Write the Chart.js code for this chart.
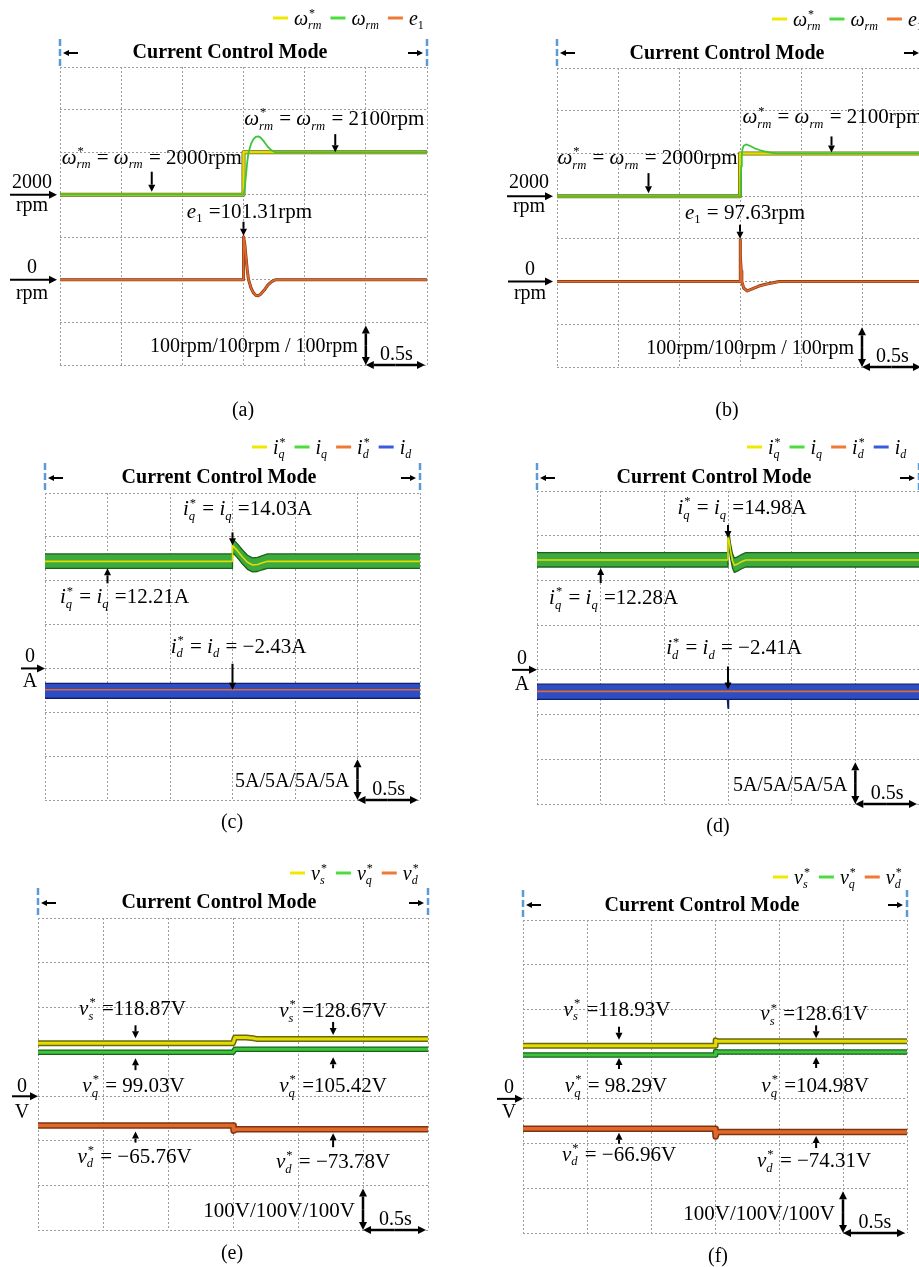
<!DOCTYPE html>
<html>
<head>
<meta charset="utf-8">
<script src="https://cdn.jsdelivr.net/npm/chart.js@4.4.1/dist/chart.umd.min.js"></script>
<style>
  html, body { margin: 0; padding: 0; background: #fff; }
  body { position: relative; width: 919px; height: 1267px; overflow: hidden; }
  canvas { position: absolute; }
</style>
</head>
<body>
<script>
// ---------- scope settings ----------
const timeRange = [0, 3];          // 6 divisions of 0.5 s
const timeStep = 0.5;
const speedRange = [1600, 2300];   // omega channels, 100 rpm/div
const errRange = [-200, 500];      // e1 channel, 100 rpm/div
const currentRange = [-15, 20];    // 5 A/div
const voltRange = [-300, 400];     // 100 V/div
const modeLabel = 'Current Control Mode';

// ---------- (a) speed step, first controller ----------
const aRefT = [0, 1.5, 1.5, 3];
const aRefSpeed = [2000, 2000, 2100, 2100];
const aSpdT = [0, 1.5, 1.51, 1.52, 1.53, 1.54, 1.56, 1.58, 1.6, 1.62, 1.64, 1.67, 1.7, 1.73, 1.76, 3];
const aSpeed = [2000, 2000, 2015, 2045, 2075, 2098, 2118, 2130, 2136, 2137, 2134, 2124, 2112, 2104, 2100, 2100];
const aErrT = [0, 1.5, 1.5, 1.51, 1.52, 1.53, 1.54, 1.56, 1.58, 1.6, 1.62, 1.64, 1.67, 1.7, 1.73, 1.76, 3];
const aErr = [0, 0, 101.31, 85, 55, 25, 2, -18, -30, -36, -37.5, -34, -24, -12, -4, 0, 0];

// ---------- (b) speed step, second controller ----------
const bRefT = [0, 1.5, 1.5, 3];
const bRefSpeed = [2000, 2000, 2100, 2100];
const bSpdT = [0, 1.5, 1.505, 1.51, 1.515, 1.52, 1.53, 1.55, 1.58, 1.62, 1.66, 1.7, 1.75, 1.8, 3];
const bSpeed = [2000, 2000, 2030, 2070, 2095, 2110, 2118, 2121, 2118, 2112, 2108, 2105, 2102, 2100, 2100];
const bErrT = [0, 1.5, 1.5, 1.505, 1.51, 1.515, 1.53, 1.56, 1.6, 1.65, 1.7, 1.75, 1.82, 3];
const bErr = [0, 0, 97.63, 60, 25, 0, -15, -22, -17, -11, -7, -4, 0, 0];

// ---------- (c) dq currents, first controller ----------
const cIqT = [0, 1.5, 1.5, 1.54, 1.58, 1.62, 1.66, 1.7, 1.74, 1.78, 3];
const cIqRef = [12.21, 12.21, 14.03, 13.4, 12.7, 12.1, 11.8, 11.85, 12.05, 12.21, 12.21];
const cIqHigh = [13.05, 13.05, 14.8, 14.2, 13.5, 12.9, 12.6, 12.65, 12.85, 13.05, 13.05];
const cIqLow = [11.4, 11.4, 13.25, 12.6, 11.9, 11.3, 11.0, 11.05, 11.25, 11.4, 11.4];
const cIdT = [0, 3];
const cIdRef = [-2.43, -2.43];
const cIdHigh = [-1.7, -1.7];
const cIdLow = [-3.4, -3.4];

// ---------- (d) dq currents, second controller ----------
const dIqT = [0, 1.5, 1.5, 1.51, 1.52, 1.535, 1.55, 1.57, 1.6, 1.64, 3];
const dIqRef = [12.28, 12.28, 14.98, 14.4, 13.3, 12.2, 11.7, 11.8, 12.05, 12.28, 12.28];
const dIqHigh = [13.1, 13.1, 15.3, 15.1, 14.1, 13.0, 12.5, 12.6, 12.85, 13.1, 13.1];
const dIqLow = [11.5, 11.5, 14.3, 13.6, 12.5, 11.4, 10.9, 11.0, 11.25, 11.5, 11.5];
const dIdT = [0, 1.495, 1.5, 1.505, 3];
const dIdRef = [-2.41, -2.41, -2.41, -2.41, -2.41];
const dIdHigh = [-1.6, -1.6, -1.2, -1.6, -1.6];
const dIdLow = [-3.3, -3.3, -4.3, -3.3, -3.3];

// ---------- (e) voltage references, first controller ----------
const eVsT = [0, 1.5, 1.515, 1.6, 1.66, 1.68, 3];
const eVs = [118.87, 118.87, 132, 132, 130, 128.67, 128.67];
const eVqT = [0, 1.5, 1.515, 3];
const eVq = [99.03, 99.03, 105.42, 105.42];
const eVdT = [0, 1.5, 1.505, 1.52, 1.53, 3];
const eVd = [-65.76, -65.76, -77, -74.5, -73.78, -73.78];

// ---------- (f) voltage references, second controller ----------
const fVsT = [0, 1.5, 1.505, 1.52, 3];
const fVs = [118.93, 118.93, 131, 128.61, 128.61];
const fVqT = [0, 1.5, 1.505, 1.52, 3];
const fVq = [98.29, 98.29, 106, 104.98, 104.98];
const fVdT = [0, 1.5, 1.505, 1.515, 1.53, 3];
const fVd = [-66.96, -66.96, -84, -76, -74.31, -74.31];

// ---------- series names (math markup: {base|sup|sub}) ----------
const speedNames = ['{ω|*|rm}', '{ω||rm}', '{e||1}'];
const currentNames = ['{i|*|q}', '{i||q}', '{i|*|d}', '{i||d}'];
const voltNames = ['{v|*|s}', '{v|*|q}', '{v|*|d}'];

// ---------- styles ----------
const SERIF = '"Liberation Serif", "Times New Roman", serif';
const GRID_COLOR = '#9d9d9d';
const YELLOW = '#e2dc00', YELLOW_DK = '#6b6812';
const GREEN = '#3cc43c', GREEN_DK = '#1a621a', GREEN_FILL = '#3caa3c';
const ORANGE = '#e2682a', ORANGE_DK = '#7c3412';
const BLUE = '#2c4ec4', BLUE_DK = '#121f66';
const KEY = { y: '#f0e800', g: '#4cdc40', o: '#ee7a35', b: '#3a5ae0' };
const DASH_BLUE = '#5b9bd5';

function num(v) { return (v < 0 ? '\u2212' : '') + Math.abs(v).toString(); }
function fnt(size, style) { return (style || '') + ' ' + size + 'px ' + SERIF; }

function pts(t, v) { return t.map((x, i) => ({ x: x, y: v[i] })); }
function line(t, v, axis, color, width) {
  return { data: pts(t, v), yAxisID: axis, borderColor: color, borderWidth: width, borderJoinStyle: 'round',
           pointRadius: 0, fill: false, tension: 0 };
}
function bandTop(t, v, axis, fillColor, edge) {
  return { data: pts(t, v), yAxisID: axis, borderColor: edge, borderWidth: 1.3, borderJoinStyle: 'round',
           backgroundColor: fillColor, fill: '+1', pointRadius: 0, tension: 0 };
}

// ---------- text helpers ----------
function parseMath(src) {
  const out = []; const re = /\{([^}]*)\}/g; let last = 0, m;
  while ((m = re.exec(src))) {
    if (m.index > last) out.push({ t: src.slice(last, m.index) });
    const parts = m[1].split('|');
    out.push({ b: parts[0], sp: parts[1] || '', sb: parts[2] || '' });
    last = re.lastIndex;
  }
  if (last < src.length) out.push({ t: src.slice(last) });
  return out;
}
function scriptStyle(s) { return /^[0-9*]+$/.test(s) ? '' : 'italic'; }
function drawMath(ctx, src, x, y, size, align) {
  const toks = parseMath(src); const items = []; let w = 0; const ss = size * 0.6;
  toks.forEach(k => {
    if (k.t !== undefined) {
      ctx.font = fnt(size, ''); items.push({ s: k.t, x: w, f: fnt(size, ''), dy: 0 }); w += ctx.measureText(k.t).width;
    } else {
      ctx.font = fnt(size, 'italic'); items.push({ s: k.b, x: w, f: fnt(size, 'italic'), dy: 0 }); w += ctx.measureText(k.b).width;
      let spw = 0, sbw = 0;
      if (k.sp) { ctx.font = fnt(ss, scriptStyle(k.sp)); spw = ctx.measureText(k.sp).width; items.push({ s: k.sp, x: w + 1, f: ctx.font, dy: -size * 0.42 }); }
      if (k.sb) { ctx.font = fnt(ss, scriptStyle(k.sb)); sbw = ctx.measureText(k.sb).width; items.push({ s: k.sb, x: w, f: ctx.font, dy: size * 0.22 }); }
      w += Math.max(spw + 1, sbw) + 1;
    }
  });
  const x0 = align === 'center' ? x - w / 2 : align === 'right' ? x - w : x;
  ctx.fillStyle = '#000'; ctx.textAlign = 'left'; ctx.textBaseline = 'alphabetic';
  items.forEach(it => { ctx.font = it.f; ctx.fillText(it.s, x0 + it.x, y + it.dy); });
  return w;
}
function arrow(ctx, x1, y1, x2, y2, w, head) {
  const a = Math.atan2(y2 - y1, x2 - x1), hl = head, hw = head * 0.5;
  const bx = x2 - Math.cos(a) * hl, by = y2 - Math.sin(a) * hl;
  ctx.strokeStyle = '#000'; ctx.fillStyle = '#000'; ctx.lineWidth = w; ctx.setLineDash([]);
  ctx.beginPath(); ctx.moveTo(x1, y1); ctx.lineTo(bx, by); ctx.stroke();
  ctx.beginPath(); ctx.moveTo(x2, y2);
  ctx.lineTo(bx - Math.sin(a) * hw, by + Math.cos(a) * hw);
  ctx.lineTo(bx + Math.sin(a) * hw, by - Math.cos(a) * hw);
  ctx.closePath(); ctx.fill();
}
function dblArrow(ctx, x1, y1, x2, y2, w, head) {
  const mx = (x1 + x2) / 2, my = (y1 + y2) / 2;
  arrow(ctx, mx, my, x1, y1, w, head); arrow(ctx, mx, my, x2, y2, w, head);
}

// ---------- annotation layer drawn on top of each scope screen ----------
function overlay(p) {
  return {
    id: 'overlay_' + p.name,
    afterDraw(chart) {
      const ctx = chart.ctx, ca = chart.chartArea;
      const L = ca.left + p.left, R = ca.right + p.left, T = ca.top + p.top, B = ca.bottom + p.top;
      const X = t => chart.scales.x.getPixelForValue(t) + p.left;
      const Y = (ax, v) => chart.scales[ax].getPixelForValue(v) + p.top;
      ctx.save();
      ctx.translate(-p.left, -p.top);

      // series key
      let lx = p.legend.x;
      p.legend.items.forEach(it => {
        ctx.strokeStyle = it.color; ctx.lineWidth = 3; ctx.setLineDash([]);
        ctx.beginPath(); ctx.moveTo(lx, p.legend.y); ctx.lineTo(lx + 15, p.legend.y); ctx.stroke();
        lx += 21;
        lx += drawMath(ctx, it.label, lx, p.legend.y + 7, 20, 'left') + 8;
      });

      // control-mode span
      ctx.setLineDash([7, 3]); ctx.strokeStyle = DASH_BLUE; ctx.lineWidth = 2.5;
      [L, R].forEach(x => { ctx.beginPath(); ctx.moveTo(x, p.title.dashTop); ctx.lineTo(x, T); ctx.stroke(); });
      ctx.setLineDash([]);
      arrow(ctx, L + 18, p.title.arrowY, L + 3, p.title.arrowY, 2, 6);
      arrow(ctx, R - 19, p.title.arrowY, R - 4, p.title.arrowY, 2, 6);
      ctx.font = fnt(20, 'bold'); ctx.textAlign = 'center'; ctx.fillStyle = '#000';
      ctx.fillText(modeLabel, p.title.x, p.title.y);

      // channel offset markers
      p.offsets.forEach(o => {
        const y = Y(o.axis, o.v);
        arrow(ctx, o.x0, y, o.x1, y, 2, 8);
        ctx.font = fnt(20, ''); ctx.textAlign = 'center'; ctx.fillStyle = '#000';
        ctx.fillText(o.text, o.tx, y + o.tdy);
        ctx.fillText(o.unit, o.tx, y + o.udy);
      });

      // value annotations
      p.notes.forEach(n => {
        const x = X(n.t), yv = Y(n.axis, n.v);
        let tip, tail;
        if (n.dir === 'down') { tip = yv - n.gap; tail = tip - n.len; }
        else { tip = yv + n.gap; tail = tip + n.len; }
        arrow(ctx, x, tail, x, tip, 2, 7);
        drawMath(ctx, n.text, x + n.dx, tail + n.ty, 21, 'center');
      });

      // scale bar
      const x25 = X(timeRange[1] - timeStep), x3 = X(timeRange[1]);
      const div = (B - T) / 7;
      dblArrow(ctx, x25, B, x25, B - div + 3, 2.5, 8);
      dblArrow(ctx, x25, B, x3 - 2, B, 2.5, 8);
      ctx.font = fnt(p.scaleSize, ''); ctx.textAlign = 'right'; ctx.fillStyle = '#000';
      ctx.fillText(p.scaleText, x25 - 8, B - 13);
      ctx.font = fnt(20, ''); ctx.textAlign = 'center';
      ctx.fillText(timeStep + 's', (x25 + x3) / 2, B - 5);

      // caption
      ctx.font = fnt(20, ''); ctx.textAlign = 'center';
      ctx.fillText(p.caption.text, p.caption.x, p.caption.y);
      ctx.restore();
    }
  };
}

function buildScope(p) {
  const canvas = document.createElement('canvas');
  canvas.width = p.width; canvas.height = p.height;
  canvas.style.left = p.left + 'px'; canvas.style.top = p.top + 'px';
  canvas.style.width = p.width + 'px'; canvas.style.height = p.height + 'px';
  document.body.appendChild(canvas);
  const gridOpts = { color: GRID_COLOR, lineWidth: 1, drawTicks: false };
  const scales = {
    x: { type: 'linear', min: timeRange[0], max: timeRange[1], ticks: { display: false, stepSize: timeStep },
         grid: gridOpts, border: { display: false, dash: [2, 2] } }
  };
  p.axes.forEach((a, i) => {
    scales[a.id] = { type: 'linear', position: 'left', min: a.range[0], max: a.range[1], display: i === 0,
      ticks: { display: false, stepSize: a.step }, grid: gridOpts, border: { display: false, dash: [2, 2] } };
  });
  new Chart(canvas, {
    type: 'line',
    data: { datasets: p.datasets },
    options: {
      responsive: false, animation: false, devicePixelRatio: 1,
      layout: { padding: p.pad },
      plugins: { legend: { display: false }, tooltip: { enabled: false }, filler: { drawTime: 'beforeDatasetsDraw' } },
      elements: { point: { radius: 0 }, line: { tension: 0 } },
      scales: scales
    },
    plugins: [overlay(p)]
  });
}

const speedKey = (n) => [{ color: KEY.y, label: n[0] }, { color: KEY.g, label: n[1] }, { color: KEY.o, label: n[2] }];
const currentKey = (n) => [{ color: KEY.y, label: n[0] }, { color: KEY.g, label: n[1] }, { color: KEY.o, label: n[2] }, { color: KEY.b, label: n[3] }];

const W = '{ω|*|rm} = {ω||rm} = ';

const panels = [
  { name: 'a', left: 0, top: 0, width: 460, height: 420, pad: { left: 60, top: 67, right: 33, bottom: 55 },
    axes: [{ id: 'yE', range: errRange, step: 100 }, { id: 'yS', range: speedRange, step: 100 }],
    datasets: [
      line(aSpdT, aSpeed, 'yS', GREEN, 1.8),
      line(aRefT, aRefSpeed, 'yS', YELLOW, 2.5),
      line(aRefT, aRefSpeed, 'yS', YELLOW_DK, 4),
      line(aErrT, aErr, 'yE', ORANGE, 1.8),
      line(aErrT, aErr, 'yE', ORANGE_DK, 3)
    ],
    legend: { x: 273, y: 18, items: speedKey(speedNames) },
    title: { x: 230, y: 58, arrowY: 53, dashTop: 39 },
    offsets: [
      { axis: 'yS', v: aRefSpeed[0], text: '2000', unit: 'rpm', x0: 10, x1: 57, tx: 32, tdy: -7, udy: 16 },
      { axis: 'yE', v: 0, text: '0', unit: 'rpm', x0: 10, x1: 57, tx: 32, tdy: -7, udy: 19 }
    ],
    notes: [
      { t: 0.75, v: aRefSpeed[0], axis: 'yS', dir: 'down', gap: 3, len: 20, dx: 0, ty: -8, text: W + num(aRefSpeed[0]) + 'rpm' },
      { t: 2.25, v: aRefSpeed[3], axis: 'yS', dir: 'down', gap: 0, len: 18, dx: -1, ty: -9, text: W + num(aRefSpeed[3]) + 'rpm' },
      { t: 1.5, v: aErr[2], axis: 'yE', dir: 'down', gap: 1, len: 14, dx: 6, ty: -4, text: '{e||1} =' + num(aErr[2]) + 'rpm' }
    ],
    scaleText: '100rpm/100rpm / 100rpm', scaleSize: 20,
    caption: { text: '(a)', x: 243, y: 416 } },

  { name: 'b', left: 460, top: 0, width: 500, height: 420, pad: { left: 97, top: 68, right: 37, bottom: 53 },
    axes: [{ id: 'yE', range: errRange, step: 100 }, { id: 'yS', range: speedRange, step: 100 }],
    datasets: [
      line(bSpdT, bSpeed, 'yS', GREEN, 1.8),
      line(bRefT, bRefSpeed, 'yS', YELLOW, 2.5),
      line(bRefT, bRefSpeed, 'yS', YELLOW_DK, 4),
      line(bErrT, bErr, 'yE', ORANGE, 1.8),
      line(bErrT, bErr, 'yE', ORANGE_DK, 3)
    ],
    legend: { x: 772, y: 19, items: speedKey(speedNames) },
    title: { x: 727, y: 59, arrowY: 53, dashTop: 39 },
    offsets: [
      { axis: 'yS', v: bRefSpeed[0], text: '2000', unit: 'rpm', x0: 507, x1: 553, tx: 529, tdy: -8, udy: 16 },
      { axis: 'yE', v: 0, text: '0', unit: 'rpm', x0: 508, x1: 553, tx: 530, tdy: -7, udy: 17 }
    ],
    notes: [
      { t: 0.75, v: bRefSpeed[0], axis: 'yS', dir: 'down', gap: 3, len: 20, dx: -1, ty: -9, text: W + num(bRefSpeed[0]) + 'rpm' },
      { t: 2.25, v: bRefSpeed[3], axis: 'yS', dir: 'down', gap: 1, len: 16, dx: 1, ty: -13, text: W + num(bRefSpeed[3]) + 'rpm' },
      { t: 1.5, v: bErr[2], axis: 'yE', dir: 'down', gap: 1, len: 14, dx: 5, ty: -6, text: '{e||1} = ' + num(bErr[2]) + 'rpm' }
    ],
    scaleText: '100rpm/100rpm / 100rpm', scaleSize: 20,
    caption: { text: '(b)', x: 727, y: 416 } },

  { name: 'c', left: 0, top: 420, width: 460, height: 420, pad: { left: 45, top: 73, right: 40, bottom: 40 },
    axes: [{ id: 'y', range: currentRange, step: 5 }],
    datasets: [
      line(cIqT, cIqRef, 'y', YELLOW, 1.6),
      bandTop(cIqT, cIqHigh, 'y', GREEN_FILL, GREEN_DK),
      line(cIqT, cIqLow, 'y', GREEN_DK, 1.3),
      line(cIdT, cIdRef, 'y', ORANGE, 1.6),
      bandTop(cIdT, cIdHigh, 'y', BLUE, BLUE_DK),
      line(cIdT, cIdLow, 'y', BLUE_DK, 1.3)
    ],
    legend: { x: 252, y: 447, items: currentKey(currentNames) },
    title: { x: 219, y: 483, arrowY: 478, dashTop: 463 },
    offsets: [{ axis: 'y', v: 0, text: '0', unit: 'A', x0: 21, x1: 45, tx: 30, tdy: -6, udy: 19 }],
    notes: [
      { t: 1.5, v: cIqRef[2], axis: 'y', dir: 'down', gap: 0, len: 13, dx: 15, ty: -17, text: '{i|*|q} = {i||q} =' + num(cIqRef[2]) + 'A' },
      { t: 0.5, v: cIqRef[0], axis: 'y', dir: 'up', gap: 7, len: 15, dx: 17, ty: 20, text: '{i|*|q} = {i||q} =' + num(cIqRef[0]) + 'A' },
      { t: 1.5, v: cIdRef[0], axis: 'y', dir: 'down', gap: 0, len: 26, dx: 6, ty: -11, text: '{i|*|d} = {i||d} = ' + num(cIdRef[0]) + 'A' }
    ],
    scaleText: '5A/5A/5A/5A', scaleSize: 20,
    caption: { text: '(c)', x: 232, y: 828 } },

  { name: 'd', left: 460, top: 420, width: 500, height: 420, pad: { left: 77, top: 71, right: 41, bottom: 36 },
    axes: [{ id: 'y', range: currentRange, step: 5 }],
    datasets: [
      line(dIqT, dIqRef, 'y', YELLOW, 1.6),
      bandTop(dIqT, dIqHigh, 'y', GREEN_FILL, GREEN_DK),
      line(dIqT, dIqLow, 'y', GREEN_DK, 1.3),
      line(dIdT, dIdRef, 'y', ORANGE, 1.6),
      bandTop(dIdT, dIdHigh, 'y', BLUE, BLUE_DK),
      line(dIdT, dIdLow, 'y', BLUE_DK, 1.3)
    ],
    legend: { x: 747, y: 447, items: currentKey(currentNames) },
    title: { x: 714, y: 483, arrowY: 478, dashTop: 463 },
    offsets: [{ axis: 'y', v: 0, text: '0', unit: 'A', x0: 512, x1: 537, tx: 522, tdy: -6, udy: 20 }],
    notes: [
      { t: 1.5, v: dIqRef[2], axis: 'y', dir: 'down', gap: -2, len: 13, dx: 14, ty: -11, text: '{i|*|q} = {i||q} =' + num(dIqRef[2]) + 'A' },
      { t: 0.5, v: dIqRef[0], axis: 'y', dir: 'up', gap: 8, len: 15, dx: 13, ty: 21, text: '{i|*|q} = {i||q} =' + num(dIqRef[0]) + 'A' },
      { t: 1.5, v: dIdRef[0], axis: 'y', dir: 'down', gap: 2, len: 23, dx: 6, ty: -12, text: '{i|*|d} = {i||d} = ' + num(dIdRef[0]) + 'A' }
    ],
    scaleText: '5A/5A/5A/5A', scaleSize: 20,
    caption: { text: '(d)', x: 718, y: 832 } },

  { name: 'e', left: 0, top: 840, width: 460, height: 427, pad: { left: 38, top: 78, right: 32, bottom: 37 },
    axes: [{ id: 'y', range: voltRange, step: 100 }],
    datasets: [
      line(eVsT, eVs, 'y', YELLOW, 3),
      line(eVsT, eVs, 'y', YELLOW_DK, 6),
      line(eVqT, eVq, 'y', GREEN, 3),
      line(eVqT, eVq, 'y', GREEN_DK, 5.5),
      line(eVdT, eVd, 'y', ORANGE, 3.5),
      line(eVdT, eVd, 'y', ORANGE_DK, 6.5)
    ],
    legend: { x: 290, y: 873, items: speedKey(voltNames) },
    title: { x: 219, y: 908, arrowY: 903, dashTop: 888 },
    offsets: [{ axis: 'y', v: 0, text: '0', unit: 'V', x0: 12, x1: 38, tx: 22, tdy: -4, udy: 22 }],
    notes: [
      { t: 0.75, v: eVs[0], axis: 'y', dir: 'down', gap: 5, len: 13, dx: -3, ty: -10, text: '{v|*|s} =' + num(eVs[0]) + 'V' },
      { t: 2.27, v: eVs[6], axis: 'y', dir: 'down', gap: 4, len: 13, dx: 0, ty: -5, text: '{v|*|s} =' + num(eVs[6]) + 'V' },
      { t: 0.75, v: eVq[0], axis: 'y', dir: 'up', gap: 6, len: 12, dx: -2, ty: 22, text: '{v|*|q} = ' + num(eVq[0]) + 'V' },
      { t: 2.27, v: eVq[3], axis: 'y', dir: 'up', gap: 8, len: 11, dx: 0, ty: 24, text: '{v|*|q} =' + num(eVq[3]) + 'V' },
      { t: 0.75, v: eVd[0], axis: 'y', dir: 'up', gap: 6, len: 11, dx: -1, ty: 20, text: '{v|*|d} = ' + num(eVd[0]) + 'V' },
      { t: 2.27, v: eVd[5], axis: 'y', dir: 'up', gap: 4, len: 14, dx: 0, ty: 21, text: '{v|*|d} = ' + num(eVd[5]) + 'V' }
    ],
    scaleText: '100V/100V/100V', scaleSize: 21,
    caption: { text: '(e)', x: 232, y: 1259 } },

  { name: 'f', left: 460, top: 840, width: 460, height: 427, pad: { left: 63, top: 80, right: 13, bottom: 34 },
    axes: [{ id: 'y', range: voltRange, step: 100 }],
    datasets: [
      line(fVsT, fVs, 'y', YELLOW, 3),
      line(fVsT, fVs, 'y', YELLOW_DK, 6),
      line(fVqT, fVq, 'y', GREEN, 3),
      line(fVqT, fVq, 'y', GREEN_DK, 5.5),
      line(fVdT, fVd, 'y', ORANGE, 3.5),
      line(fVdT, fVd, 'y', ORANGE_DK, 6.5)
    ],
    legend: { x: 773, y: 877, items: speedKey(voltNames) },
    title: { x: 702, y: 911, arrowY: 905, dashTop: 890 },
    offsets: [{ axis: 'y', v: 0, text: '0', unit: 'V', x0: 497, x1: 523, tx: 509, tdy: -6, udy: 19 }],
    notes: [
      { t: 0.75, v: fVs[0], axis: 'y', dir: 'down', gap: 6, len: 13, dx: -2, ty: -11, text: '{v|*|s} =' + num(fVs[0]) + 'V' },
      { t: 2.29, v: fVs[4], axis: 'y', dir: 'down', gap: 3, len: 13, dx: -2, ty: -5, text: '{v|*|s} =' + num(fVs[4]) + 'V' },
      { t: 0.75, v: fVq[0], axis: 'y', dir: 'up', gap: 3, len: 11, dx: -3, ty: 23, text: '{v|*|q} = ' + num(fVq[0]) + 'V' },
      { t: 2.29, v: fVq[4], axis: 'y', dir: 'up', gap: 5, len: 11, dx: -1, ty: 24, text: '{v|*|q} =' + num(fVq[4]) + 'V' },
      { t: 0.75, v: fVd[0], axis: 'y', dir: 'up', gap: 4, len: 11, dx: 0, ty: 17, text: '{v|*|d} = ' + num(fVd[0]) + 'V' },
      { t: 2.29, v: fVd[5], axis: 'y', dir: 'up', gap: 4, len: 12, dx: -2, ty: 19, text: '{v|*|d} = ' + num(fVd[5]) + 'V' }
    ],
    scaleText: '100V/100V/100V', scaleSize: 21,
    caption: { text: '(f)', x: 718, y: 1262 } }
];

panels.forEach(buildScope);
</script>
</body>
</html>
